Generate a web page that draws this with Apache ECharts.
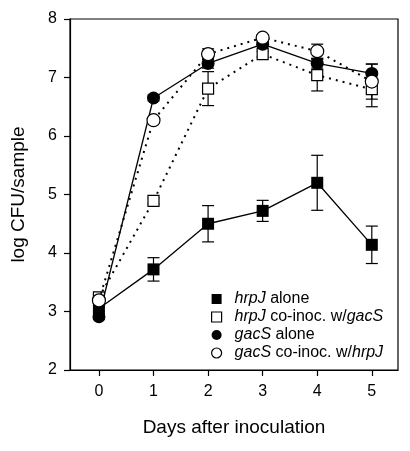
<!DOCTYPE html>
<html>
<head>
<meta charset="utf-8">
<script src="https://cdn.jsdelivr.net/npm/echarts@6/dist/echarts.min.js"></script>
<style>html,body{margin:0;padding:0;background:#fff}#c{width:410px;height:451px}</style>
</head>
<body>
<div id="c"></div>
<script>
const days = [0, 1, 2, 3, 4, 5];
const xTicks = [0, 1, 2, 3, 4, 5];
const yTicks = [2, 3, 4, 5, 6, 7, 8];

const hrpJAlone = [3.05, 3.72, 4.50, 4.72, 5.20, 4.14];
const hrpJAloneErr = [0.05, 0.20, 0.31, 0.18, 0.47, 0.32];
const hrpJCo = [3.24, 4.89, 6.81, 7.40, 7.04, 6.80];
const hrpJCoErr = [0.05, 0.05, 0.29, 0.05, 0.27, 0.30];
const gacSAlone = [2.91, 6.65, 7.24, 7.57, 7.24, 7.07];
const gacSAloneErr = [0.05, 0.05, 0.08, 0.05, 0.08, 0.16];
const gacSCo = [3.19, 6.27, 7.40, 7.68, 7.45, 6.93];
const gacSCoErr = [0.05, 0.05, 0.09, 0.05, 0.12, 0.30];

const names = ['hrpJ alone', 'hrpJ co-inoc. w/gacS', 'gacS alone', 'gacS co-inoc. w/hrpJ'];
const legendLabels = ['{i|hrpJ} alone', '{i|hrpJ} co-inoc. w/{i|gacS}', '{i|gacS} alone', '{i|gacS} co-inoc. w/{i|hrpJ}'];

function pairs(vals) { return days.map((d, i) => [d, vals[i]]); }
function errData(vals, errs) { return days.map((d, i) => [d, vals[i] - errs[i], vals[i] + errs[i]]); }

function errSeries(vals, errs) {
  return {
    type: 'custom',
    z: 1,
    silent: true,
    data: errData(vals, errs),
    renderItem: function (params, api) {
      const x = api.value(0);
      const lo = api.coord([x, api.value(1)]);
      const hi = api.coord([x, api.value(2)]);
      const hw = 6;
      const st = { stroke: '#000', lineWidth: 1.2 };
      return {
        type: 'group',
        children: [
          { type: 'line', shape: { x1: lo[0], y1: lo[1], x2: hi[0], y2: hi[1] }, style: st },
          { type: 'line', shape: { x1: lo[0] - hw, y1: lo[1], x2: lo[0] + hw, y2: lo[1] }, style: st },
          { type: 'line', shape: { x1: hi[0] - hw, y1: hi[1], x2: hi[0] + hw, y2: hi[1] }, style: st }
        ]
      };
    }
  };
}

const font = '"Liberation Sans", Arial, sans-serif';

const chart = echarts.init(document.getElementById('c'));
chart.setOption({
  animation: false,
  backgroundColor: '#fff',
  grid: { left: 70, right: 12, top: 19, bottom: 81, show: true, borderColor: '#000', borderWidth: 1.2, backgroundColor: 'transparent' },
  xAxis: {
    type: 'value', min: -0.53, max: 5.48,
    name: 'Days after inoculation', nameLocation: 'middle', nameGap: 48,
    nameTextStyle: { fontFamily: font, fontSize: 19, color: '#000' },
    axisLine: { onZero: false, lineStyle: { color: '#000', width: 1.2 } },
    axisTick: { show: true, inside: false, length: 6, customValues: xTicks, lineStyle: { color: '#000', width: 1.2 } },
    axisLabel: { customValues: xTicks, margin: 14, fontFamily: font, fontSize: 16, color: '#000' },
    splitLine: { show: false }
  },
  yAxis: {
    type: 'value', min: 2, max: 8, interval: 1,
    name: 'log CFU/sample', nameLocation: 'middle', nameGap: 42,
    nameTextStyle: { fontFamily: font, fontSize: 19, color: '#000' },
    axisLine: { show: true, onZero: false, lineStyle: { color: '#000', width: 1.2 } },
    axisTick: { show: true, inside: false, length: 6, lineStyle: { color: '#000', width: 1.2 } },
    axisLabel: { margin: 13, fontFamily: font, fontSize: 16, color: '#000', formatter: v => yTicks.includes(v) ? String(v) : '' },
    splitLine: { show: false }
  },
  legend: {
    orient: 'vertical', left: 206, top: 286,
    itemWidth: 10, itemHeight: 10, itemGap: 2,
    textStyle: { fontFamily: font, fontSize: 16, color: '#000', padding: [0, 0, 0, 8], lineHeight: 16,
      rich: { i: { fontFamily: font, fontSize: 16, fontStyle: 'italic', color: '#000', lineHeight: 16 } } },
    formatter: function (n) { return legendLabels[names.indexOf(n)]; },
    data: [
      { name: names[0], icon: 'rect', itemStyle: { color: '#000', borderWidth: 0 } },
      { name: names[1], icon: 'rect', itemStyle: { color: '#fff', borderColor: '#000', borderWidth: 1.2 } },
      { name: names[2], icon: 'circle', itemStyle: { color: '#000', borderWidth: 0 } },
      { name: names[3], icon: 'circle', itemStyle: { color: '#fff', borderColor: '#000', borderWidth: 1.2 } }
    ]
  },
  series: [
    errSeries(hrpJAlone, hrpJAloneErr),
    errSeries(hrpJCo, hrpJCoErr),
    errSeries(gacSAlone, gacSAloneErr),
    errSeries(gacSCo, gacSCoErr),
    {
      name: names[0], type: 'line', z: 2, data: pairs(hrpJAlone),
      symbol: 'rect', symbolSize: 12,
      lineStyle: { color: '#000', width: 1.3 },
      itemStyle: { color: '#000', borderWidth: 0 }
    },
    {
      name: names[1], type: 'line', z: 3, data: pairs(hrpJCo),
      symbol: 'rect', symbolSize: 11,
      lineStyle: { color: '#000', width: 2, type: [2, 5] },
      itemStyle: { color: '#fff', borderColor: '#000', borderWidth: 1.2 }
    },
    {
      name: names[2], type: 'line', z: 4, data: pairs(gacSAlone),
      symbol: 'circle', symbolSize: 13,
      lineStyle: { color: '#000', width: 1.3 },
      itemStyle: { color: '#000', borderWidth: 0 }
    },
    {
      name: names[3], type: 'line', z: 5, data: pairs(gacSCo),
      symbol: 'circle', symbolSize: 13,
      lineStyle: { color: '#000', width: 2, type: [2, 5] },
      itemStyle: { color: '#fff', borderColor: '#000', borderWidth: 1.2 }
    }
  ]
});
</script>
</body>
</html>
